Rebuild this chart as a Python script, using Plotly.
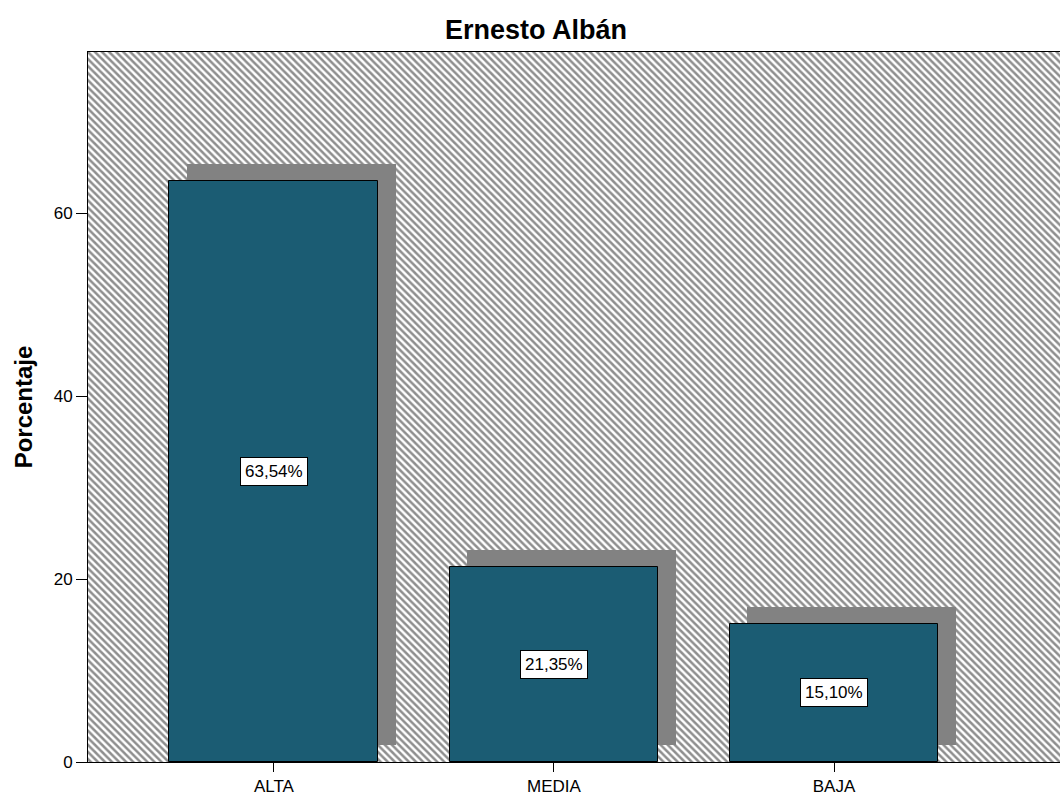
import plotly.graph_objects as go

categories = ['ALTA', 'MEDIA', 'BAJA']
percentages = [63.54, 21.35, 15.10]
labels = ['63,54%', '21,35%', '15,10%']
y_ticks = [0, 20, 40, 60]

colors = {
    'bar': '#1b5c73',
    'shadow': '#828282',
    'hatch': '#1e1e1e',
    'text': '#000000',
}

FONT = 'Arial, Liberation Sans, sans-serif'

x_pos = list(range(len(categories)))
x_range = [-0.664, 2.807]
y_range = [0, 77.6]
bar_width = 0.746
shadow_dx = 0.064
shadow_dy = 1.85

fig = go.Figure()

# hatched plot background (SPSS style)
fig.add_trace(go.Bar(
    x=[(x_range[0] + x_range[1]) / 2],
    y=[y_range[1]],
    width=[x_range[1] - x_range[0]],
    marker=dict(
        color='white',
        line=dict(width=0),
        pattern=dict(shape='\\', size=5, solidity=0.5,
                     fgcolor=colors['hatch'], bgcolor='white'),
    ),
    hoverinfo='skip',
    showlegend=False,
))

# drop shadows behind the bars, shifted right and up
fig.add_trace(go.Bar(
    x=[x + shadow_dx for x in x_pos],
    y=percentages,
    base=shadow_dy,
    width=bar_width,
    marker=dict(color=colors['shadow'], line=dict(width=0)),
    hoverinfo='skip',
    showlegend=False,
))

fig.add_trace(go.Bar(
    x=x_pos,
    y=percentages,
    width=bar_width,
    marker=dict(color=colors['bar'], line=dict(color='black', width=1)),
    hovertemplate='%{y:.2f}%<extra></extra>',
    showlegend=False,
))

for x, v, lab in zip(x_pos, percentages, labels):
    fig.add_annotation(
        x=x, y=v / 2, text=lab, showarrow=False,
        font=dict(family=FONT, size=17, color='black'),
        bgcolor='white', bordercolor='black', borderwidth=1, borderpad=4,
    )

fig.update_layout(
    width=1060,
    height=796,
    barmode='overlay',
    bargap=0,
    plot_bgcolor='white',
    paper_bgcolor='white',
    margin=dict(l=88, r=0, t=52, b=25),
    title=dict(
        text='<b>Ernesto Albán</b>',
        x=536 / 1060, xanchor='center',
        y=1 - 30 / 796, yanchor='middle',
        font=dict(family=FONT, size=27, color='black'),
    ),
    font=dict(family=FONT, color='black'),
)

fig.update_xaxes(
    range=x_range,
    tickvals=x_pos,
    ticktext=categories,
    ticks='outside', ticklen=9, tickcolor='black', tickwidth=1,
    tickfont=dict(family=FONT, size=17, color='black'),
    showline=True, linecolor='black', linewidth=1, mirror=True,
    showgrid=False, zeroline=False,
)

fig.update_yaxes(
    range=y_range,
    tickvals=y_ticks,
    ticks='outside', ticklen=11, tickcolor='black', tickwidth=1,
    tickfont=dict(family=FONT, size=17, color='black'),
    title=dict(text='<b>Porcentaje</b>', standoff=14,
               font=dict(family=FONT, size=24, color='black')),
    showline=True, linecolor='black', linewidth=1,
    showgrid=False, zeroline=False,
)

fig.write_html('out.html', config={'displayModeBar': False},
               post_script="document.body.style.margin='0';")
